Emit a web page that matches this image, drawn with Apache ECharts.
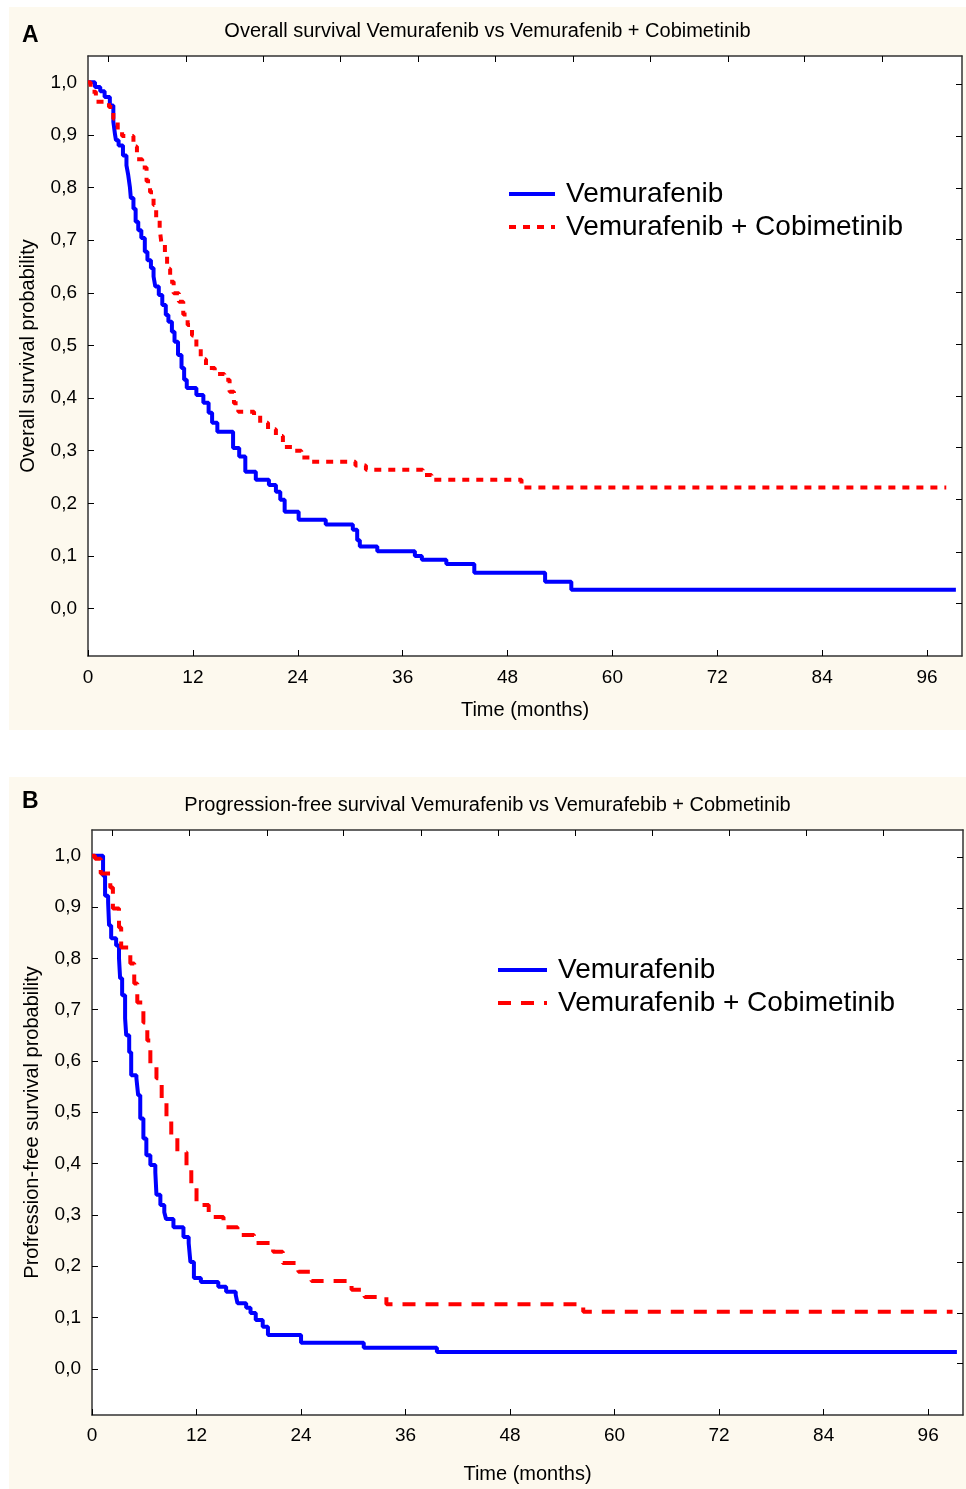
<!DOCTYPE html>
<html>
<head>
<meta charset="utf-8">
<script src="https://cdn.jsdelivr.net/npm/echarts@6/dist/echarts.min.js"></script>
<style>
body{margin:0;background:#fff;width:966px;height:1489px;position:relative;overflow:hidden;}
.panel{position:absolute;background:#fdf9ee;}
</style>
</head>
<body>
<div id="chartA" class="panel" style="left:9px;top:7px;width:957px;height:723px"></div>
<div id="chartB" class="panel" style="left:9px;top:777px;width:957px;height:712px"></div>
<script>
// Kaplan-Meier steps, [month, survival]
var osVemurafenib = [[0,1],[0.8,0.991],[1.4,0.983],[1.9,0.972],[2.5,0.956],[2.9,0.925],[3.1,0.9],[3.2,0.89],[3.5,0.88],
    [4.0,0.861],[4.4,0.842],[4.6,0.824],[4.8,0.8],[4.9,0.78],[5.2,0.76],[5.45,0.735],[5.75,0.719],[6.1,0.704],
    [6.5,0.678],[6.8,0.662],[7.2,0.647],[7.5,0.631],[7.7,0.612],[8.1,0.596],[8.5,0.577],[8.9,0.558],[9.2,0.545],
    [9.6,0.526],[9.9,0.507],[10.3,0.482],[10.7,0.457],[11.0,0.435],[11.3,0.419],[12.4,0.406],[13.2,0.391],
    [13.8,0.372],[14.2,0.353],[14.8,0.336],[16.6,0.305],[17.3,0.289],[18.0,0.26],[19.2,0.245],[20.7,0.235],
    [21.5,0.222],[22.0,0.207],[22.5,0.184],[24.1,0.169],[27.2,0.16],[30.3,0.15],[30.8,0.13],[31.1,0.118],
    [33.1,0.109],[37.4,0.1],[38.2,0.093],[41.0,0.085],[44.2,0.068],[52.3,0.051],[55.3,0.036],[99.3,0.036]];
var osCombination = [[0,1],[0.3,0.982],[0.9,0.963],[2.4,0.953],[2.9,0.931],[3.4,0.91],[3.9,0.898],[5.2,0.878],
    [5.6,0.854],[6.2,0.838],[6.7,0.812],[7.1,0.791],[7.5,0.767],[7.8,0.742],[8.2,0.722],[8.4,0.694],[8.8,0.672],
    [9.05,0.646],[9.4,0.621],[9.8,0.599],[10.4,0.583],[10.9,0.559],[11.4,0.539],[11.9,0.519],[12.4,0.495],
    [12.9,0.474],[13.5,0.457],[14.5,0.446],[15.6,0.435],[16.2,0.412],[16.7,0.39],[17.2,0.374],[19.0,0.368],
    [19.7,0.353],[20.6,0.341],[21.5,0.328],[22.3,0.307],[23.4,0.3],[24.4,0.287],[25.4,0.279],[30.6,0.272],
    [31.8,0.264],[38.3,0.254],[39.3,0.245],[49.6,0.23],[98.2,0.23]];
var pfsVemurafenib = [[0,1],[0.9,1],[1.27,0.961],[1.5,0.922],[1.85,0.909],[1.96,0.864],[2.2,0.839],[2.77,0.825],
    [3.1,0.8],[3.23,0.761],[3.46,0.728],[3.8,0.683],[3.93,0.65],[4.27,0.617],[4.5,0.572],[5.1,0.566],[5.3,0.533],
    [5.54,0.488],[5.9,0.449],[6.24,0.416],[6.7,0.397],[7.27,0.383],[7.4,0.339],[7.85,0.319],[8.3,0.305],
    [8.5,0.292],[9.35,0.276],[10.5,0.257],[11.1,0.245],[11.3,0.208],[11.7,0.177],[12.5,0.169],[14.5,0.16],
    [15.4,0.15],[16.5,0.144],[16.7,0.128],[17.7,0.119],[18.2,0.109],[18.8,0.095],[19.6,0.082],[20.2,0.066],
    [24.0,0.051],[31.2,0.041],[39.6,0.033],[99.3,0.033]];
var pfsCombination = [[0,1],[0.35,0.994],[1.0,0.965],[2.1,0.938],[2.4,0.897],[3.1,0.86],[3.35,0.821],[4.4,0.79],
    [4.85,0.751],[5.2,0.714],[5.9,0.675],[6.35,0.64],[6.7,0.595],[7.4,0.566],[8.0,0.527],[8.55,0.49],[9.1,0.451],
    [9.8,0.422],[10.85,0.391],[11.4,0.354],[12.0,0.319],[13.4,0.296],[15.1,0.276],[16.7,0.261],[18.6,0.245],
    [20.8,0.228],[21.9,0.206],[23.7,0.189],[25.2,0.171],[29.8,0.154],[31.3,0.14],[33.8,0.126],[56.4,0.111],
    [98.8,0.111]];

var monthTicks = [0, 12, 24, 36, 48, 60, 72, 84, 96];
var probTicks = [0, 0.1, 0.2, 0.3, 0.4, 0.5, 0.6, 0.7, 0.8, 0.9, 1.0];
var topTicks = [2.3, 11.2, 20.1, 28.9, 37.8, 46.6, 55.5, 64.3, 73.2, 82.0, 90.9];
var rightTicks = [0.01, 0.108, 0.207, 0.306, 0.404, 0.503, 0.602, 0.701, 0.799, 0.898, 0.997];

var FONT = "'Liberation Sans', Arial, sans-serif";

function buildOption(c) {
    var axisLine = {show: true, onZero: false, lineStyle: {color: '#333', width: 1.5}};
    return {
        animation: false,
        textStyle: {fontFamily: FONT},
        title: [
            {text: c.letter, left: 13, top: c.letterTop, padding: 0,
             textStyle: {fontFamily: FONT, fontSize: 23, fontWeight: 'bold', color: '#000', lineHeight: 23}},
            {text: c.title, left: 'center', top: c.titleTop, padding: 0,
             textStyle: {fontFamily: FONT, fontSize: 20, fontWeight: 'normal', color: '#000', lineHeight: 20}}
        ],
        legend: {
            orient: 'vertical', left: c.legendLeft, top: c.legendTop, padding: 0,
            itemWidth: c.legendItemWidth, itemHeight: 14, itemGap: 5,
            textStyle: {fontFamily: FONT, fontSize: 28, lineHeight: 28, color: '#000', padding: [0, 0, 0, 6]},
            itemStyle: {opacity: 0},
            lineStyle: {width: 4},
            data: [c.names[0], c.names[1]]
        },
        grid: {left: c.grid.left, top: c.grid.top, width: c.grid.width, height: c.grid.height,
               show: true, backgroundColor: '#fff', borderWidth: 0},
        xAxis: [
            {type: 'value', min: 0, max: 100, position: 'bottom',
             name: 'Time (months)', nameLocation: 'middle', nameGap: c.xNameGap,
             nameTextStyle: {fontFamily: FONT, fontSize: 20, color: '#000'},
             axisLine: axisLine, splitLine: {show: false},
             axisTick: {show: true, inside: true, length: 6, customValues: monthTicks, lineStyle: {color: '#000'}},
             axisLabel: {customValues: monthTicks, margin: c.xLabelMargin, fontSize: 19, color: '#000', fontFamily: FONT}},
            {type: 'value', min: 0, max: 100, position: 'top',
             axisLine: axisLine, splitLine: {show: false},
             axisTick: {show: true, inside: true, length: 6, customValues: topTicks, lineStyle: {color: '#000'}},
             axisLabel: {show: false}}
        ],
        yAxis: [
            {type: 'value', min: -0.09, max: 1.05, position: 'left',
             name: c.yName, nameLocation: 'middle', nameGap: 50,
             nameTextStyle: {fontFamily: FONT, fontSize: 20, color: '#000'},
             axisLine: axisLine, splitLine: {show: false},
             axisTick: {show: true, inside: true, length: 6, customValues: probTicks, lineStyle: {color: '#000'}},
             axisLabel: {customValues: probTicks, margin: 11, fontSize: 19, color: '#000', fontFamily: FONT,
                         formatter: function (v) { return v.toFixed(1).replace('.', ','); }}},
            {type: 'value', min: -0.09, max: 1.05, position: 'right',
             axisLine: axisLine, splitLine: {show: false},
             axisTick: {show: true, inside: true, length: 6, customValues: rightTicks, lineStyle: {color: '#000'}},
             axisLabel: {show: false}}
        ],
        series: [
            {name: c.names[0], type: 'line', step: 'end', symbol: 'none', data: c.blue,
             xAxisIndex: 0, yAxisIndex: 0,
             itemStyle: {color: '#0000ff'}, lineStyle: {color: '#0000ff', width: 4}},
            {name: c.names[1], type: 'line', step: 'end', symbol: 'none', data: c.red,
             xAxisIndex: 0, yAxisIndex: 0,
             itemStyle: {color: '#ff0000'}, lineStyle: {color: '#ff0000', width: 4, type: c.dash}}
        ]
    };
}

var chartA = echarts.init(document.getElementById('chartA'));
chartA.setOption(buildOption({
    letter: 'A', letterTop: 17,
    title: 'Overall survival Vemurafenib vs Vemurafenib + Cobimetinib', titleTop: 14,
    legendLeft: 498, legendTop: 173, legendItemWidth: 46,
    names: ['Vemurafenib', 'Vemurafenib + Cobimetinib'],
    grid: {left: 79, top: 49, width: 874, height: 600},
    xNameGap: 44, xLabelMargin: 12,
    yName: 'Overall survival probability',
    blue: osVemurafenib, red: osCombination, dash: [7, 7]
}));

var chartB = echarts.init(document.getElementById('chartB'));
chartB.setOption(buildOption({
    letter: 'B', letterTop: 13.5,
    title: 'Progression-free survival Vemurafenib vs Vemurafebib + Cobmetinib', titleTop: 18,
    legendLeft: 487, legendTop: 179, legendItemWidth: 49,
    names: ['Vemurafenib', 'Vemurafenib + Cobimetinib'],
    grid: {left: 83, top: 53, width: 871, height: 586},
    xNameGap: 49, xLabelMargin: 11,
    yName: 'Profression-free survival probability',
    blue: pfsVemurafenib, red: pfsCombination, dash: [13, 10]
}));

window.onresize = function () { chartA.resize(); chartB.resize(); };
</script>
</body>
</html>
